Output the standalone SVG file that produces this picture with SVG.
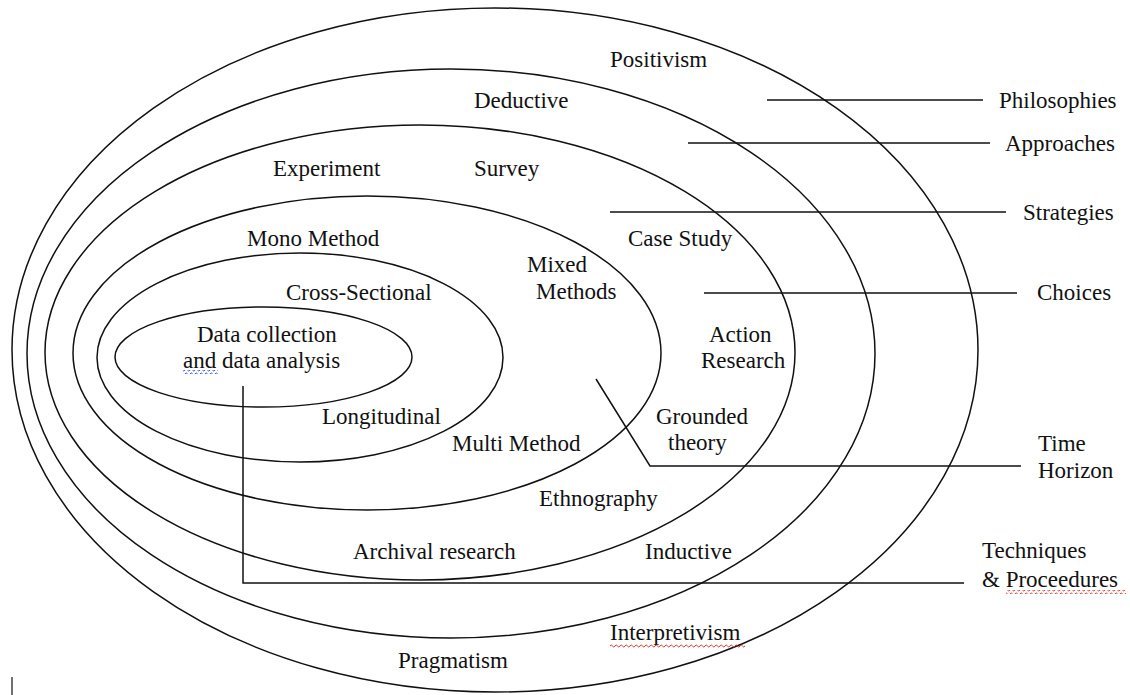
<svg xmlns="http://www.w3.org/2000/svg" width="1130" height="695" viewBox="0 0 1130 695">
  <style>
    .ring { fill: none; stroke: #111; stroke-width: 1.5; }
    .lead { fill: none; stroke: #111; stroke-width: 1.5; }
    text { font-family: "Liberation Serif", "Times New Roman", serif; font-size: 23px; fill: #111; }
  </style>
  <defs>
    <pattern id="waveRed" x="0" y="0" width="5" height="4" patternUnits="userSpaceOnUse">
      <path d="M0 2 Q1.25 0 2.5 2 T5 2" fill="none" stroke="#e03030" stroke-width="1"/>
    </pattern>
    <pattern id="waveBlue" x="0" y="0" width="5" height="4" patternUnits="userSpaceOnUse">
      <path d="M0 2 Q1.25 0 2.5 2 T5 2" fill="none" stroke="#3050e0" stroke-width="1"/>
    </pattern>
  </defs>

  <rect width="1130" height="695" fill="#fff"/>

  <!-- nested layers, outermost first -->
  <g id="layer-philosophies">
    <ellipse class="ring" cx="495" cy="350" rx="483" ry="342"/>
    <text x="610" y="67">Positivism</text>
    <text x="610" y="640">Interpretivism</text>
    <rect x="610" y="644" width="135" height="4" fill="url(#waveRed)"/>
    <text x="398" y="668">Pragmatism</text>
  </g>
  <g id="layer-approaches">
    <ellipse class="ring" cx="451" cy="353.5" rx="424" ry="284.5"/>
    <text x="474" y="108">Deductive</text>
    <text x="645" y="559">Inductive</text>
  </g>
  <g id="layer-strategies">
    <ellipse class="ring" cx="420" cy="352.5" rx="375" ry="227.5"/>
    <text x="273" y="176">Experiment</text>
    <text x="474" y="176">Survey</text>
    <text x="628" y="246">Case Study</text>
    <text x="709" y="342">Action</text>
    <text x="701" y="368">Research</text>
    <text x="656" y="424">Grounded</text>
    <text x="668" y="450">theory</text>
    <text x="539" y="506">Ethnography</text>
    <text x="353" y="559">Archival research</text>
  </g>
  <g id="layer-choices">
    <ellipse class="ring" cx="367" cy="353" rx="294" ry="157"/>
    <text x="247" y="246">Mono Method</text>
    <text x="527" y="272">Mixed</text>
    <text x="536" y="299">Methods</text>
    <text x="452" y="451">Multi Method</text>
  </g>
  <g id="layer-time-horizon">
    <ellipse class="ring" cx="300" cy="357.5" rx="203" ry="104.5"/>
    <text x="286" y="300">Cross-Sectional</text>
    <text x="322" y="424">Longitudinal</text>
  </g>
  <g id="layer-core">
    <ellipse class="ring" cx="263.5" cy="357" rx="148.5" ry="50"/>
    <text x="197" y="342">Data collection</text>
    <text x="183" y="368">and data analysis</text>
    <rect x="183" y="370" width="35" height="4" fill="url(#waveBlue)"/>
  </g>

  <!-- leader lines to the layer names -->
  <g id="connectors">
    <line class="lead" x1="767" y1="100" x2="983" y2="100"/>
    <line class="lead" x1="688" y1="143" x2="990" y2="143"/>
    <line class="lead" x1="610" y1="212" x2="1006" y2="212"/>
    <line class="lead" x1="704" y1="293" x2="1017" y2="293"/>
    <polyline class="lead" points="596,379 650,466 1021,466"/>
    <polyline class="lead" points="243,386 243,583 964,583"/>
  </g>

  <g id="layer-names">
    <text x="999" y="108">Philosophies</text>
    <text x="1005" y="151">Approaches</text>
    <text x="1023" y="220">Strategies</text>
    <text x="1037" y="300">Choices</text>
    <text x="1038" y="451">Time</text>
    <text x="1038" y="478">Horizon</text>
    <text x="982" y="558">Techniques</text>
    <text x="982" y="587">&amp; Proceedures</text>
    <rect x="1006" y="590" width="120" height="4" fill="url(#waveRed)"/>
  </g>

  <!-- text cursor mark -->
  <line x1="12" y1="677" x2="12" y2="695" stroke="#111" stroke-width="1.2"/>
</svg>
